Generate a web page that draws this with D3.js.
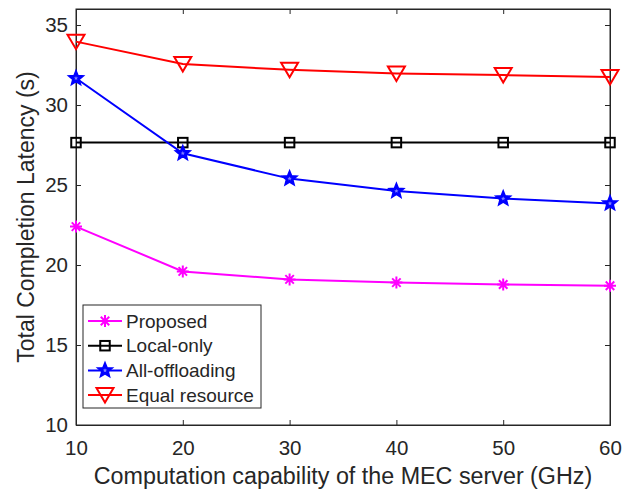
<!DOCTYPE html>
<html>
<head>
<meta charset="utf-8">
<script src="https://cdn.jsdelivr.net/npm/d3@7"></script>
<style>
  body { margin: 0; background: #fff; }
  svg text { font-family: "Liberation Sans", Arial, Helvetica, sans-serif; fill: #262626; }
</style>
</head>
<body>
<div id="chart"></div>
<script>
// values
var capability = [10, 20, 30, 40, 50, 60];
var proposed = [22.4, 19.6, 19.1, 18.9, 18.78, 18.7];
var localOnly = [27.65, 27.65, 27.65, 27.65, 27.65, 27.65];
var allOffloading = [31.67, 26.98, 25.4, 24.62, 24.15, 23.85];
var equalResource = [33.96, 32.56, 32.2, 31.97, 31.87, 31.75];
var seriesNames = ["Proposed", "Local-only", "All-offloading", "Equal resource"];
var xTicks = [10, 20, 30, 40, 50, 60];
var yTicks = [10, 15, 20, 25, 30, 35];

var W = 635, H = 491;
var margin = {top: 9, right: 25, bottom: 66, left: 76};
var width = W - margin.left - margin.right,
    height = H - margin.top - margin.bottom;

var svg = d3.select("#chart").append("svg")
    .attr("width", W)
    .attr("height", H);

var g = svg.append("g")
    .attr("transform", "translate(" + margin.left + "," + margin.top + ")");

var x = d3.scaleLinear().domain([10, 60]).range([0, width]);
var y = d3.scaleLinear().domain([10, 36]).range([height, 0]);

var axisColor = "#262626";

// box
g.append("rect")
    .attr("width", width).attr("height", height)
    .attr("fill", "none").attr("stroke", axisColor).attr("stroke-width", 1);

// axes, ticks pointing inward like matlab
var xAxis = g.append("g").attr("transform", "translate(0," + height + ")")
    .call(d3.axisBottom(x).tickValues(xTicks).tickSize(-5).tickPadding(15));
var xTop = g.append("g")
    .call(d3.axisTop(x).tickValues(xTicks).tickSize(-5).tickFormat(""));
var yAxis = g.append("g")
    .call(d3.axisLeft(y).tickValues(yTicks).tickSize(-5).tickPadding(8));
var yRight = g.append("g").attr("transform", "translate(" + width + ",0)")
    .call(d3.axisRight(y).tickValues(yTicks).tickSize(-5).tickFormat(""));

[xAxis, xTop, yAxis, yRight].forEach(function (a) {
    a.select(".domain").attr("stroke", axisColor);
    a.selectAll(".tick line").attr("stroke", axisColor);
    a.selectAll("text").style("font-size", "20.5px").attr("fill", axisColor);
});

// axis labels
svg.append("text")
    .attr("x", margin.left + width / 2)
    .attr("y", 484)
    .attr("text-anchor", "middle")
    .style("font-size", "23.3px")
    .text("Computation capability of the MEC server (GHz)");

svg.append("text")
    .attr("transform", "translate(33.5," + (margin.top + height / 2) + ") rotate(-90)")
    .attr("text-anchor", "middle")
    .style("font-size", "23px")
    .text("Total Completion Latency (s)");

function starPath(R, r) {
    var pts = [];
    for (var k = 0; k < 10; k++) {
        var rad = (k % 2 === 0 ? R : r);
        var a = -Math.PI / 2 + k * Math.PI / 5;
        pts.push([rad * Math.cos(a), rad * Math.sin(a)]);
    }
    return "M" + pts.map(function (p) { return p[0].toFixed(2) + "," + p[1].toFixed(2); }).join("L") + "Z";
}

// marker drawing
function drawMarker(sel, type, color) {
    if (type === "asterisk") {
        var r = 6;
        var d = "";
        [0, 45, 90, 135].forEach(function (a) {
            var rad = a * Math.PI / 180;
            var dx = r * Math.cos(rad), dy = r * Math.sin(rad);
            d += "M" + (-dx) + "," + (-dy) + "L" + dx + "," + dy;
        });
        sel.append("path").attr("d", d).attr("stroke", color).attr("stroke-width", 2).attr("fill", "none");
    } else if (type === "square") {
        sel.append("rect").attr("x", -4.75).attr("y", -4.75).attr("width", 9.5).attr("height", 9.5)
            .attr("stroke", color).attr("stroke-width", 2).attr("fill", "none");
    } else if (type === "star") {
        sel.append("path").attr("d", starPath(7.8, 3.4))
            .attr("stroke", color).attr("stroke-width", 1.5).attr("fill", color)
            .attr("stroke-linejoin", "miter");
        // matlab draws the pentagram outline only, the centre stays a bit lighter
        sel.append("path").attr("d", starPath(2.2, 1))
            .attr("fill", "#8080ff").attr("stroke", "none");
    } else if (type === "triangle") {
        sel.append("path").attr("d", "M-8.5,-7L8.5,-7L0,7.5Z")
            .attr("stroke", color).attr("stroke-width", 2).attr("fill", "none");
    }
}

var series = [
    {name: seriesNames[0], values: proposed, color: "#ff00ff", marker: "asterisk"},
    {name: seriesNames[1], values: localOnly, color: "#000000", marker: "square"},
    {name: seriesNames[2], values: allOffloading, color: "#0000ff", marker: "star"},
    {name: seriesNames[3], values: equalResource, color: "#ff0000", marker: "triangle"}
];

var line = d3.line()
    .x(function (d, i) { return x(capability[i]); })
    .y(function (d) { return y(d); });

series.forEach(function (s) {
    g.append("path")
        .datum(s.values)
        .attr("fill", "none")
        .attr("stroke", s.color)
        .attr("stroke-width", 2)
        .attr("d", line);
    s.values.forEach(function (v, i) {
        var m = g.append("g").attr("transform", "translate(" + x(capability[i]) + "," + y(v) + ")");
        drawMarker(m, s.marker, s.color);
    });
});

// legend
var legend = svg.append("g").attr("transform", "translate(83,305)");
legend.append("rect")
    .attr("width", 178).attr("height", 103)
    .attr("fill", "#fff").attr("stroke", axisColor).attr("stroke-width", 1);

series.forEach(function (s, i) {
    var row = legend.append("g").attr("transform", "translate(0," + (16 + i * 24.7) + ")");
    row.append("line").attr("x1", 5).attr("x2", 39).attr("y1", 0).attr("y2", 0)
        .attr("stroke", s.color).attr("stroke-width", 2);
    var m = row.append("g").attr("transform", "translate(22,0)");
    drawMarker(m, s.marker, s.color);
    row.append("text").attr("x", 43).attr("y", 0).attr("dy", "0.35em")
        .style("font-size", "19px").text(s.name);
});
</script>
</body>
</html>
